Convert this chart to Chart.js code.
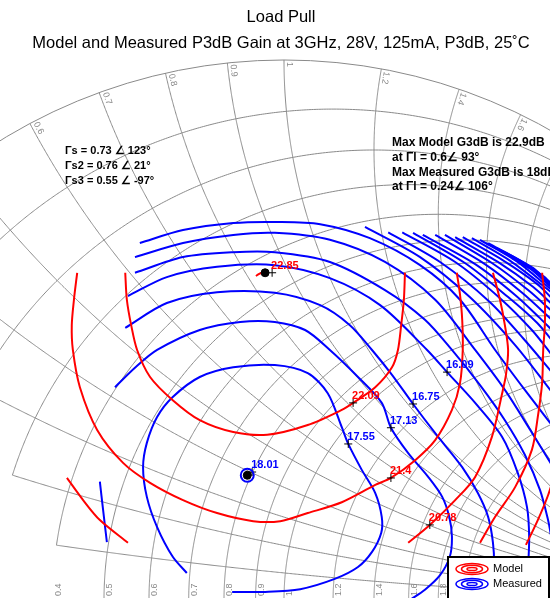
<!DOCTYPE html>
<html>
<head>
<meta charset="utf-8">
<title>Load Pull</title>
<script src="https://cdn.jsdelivr.net/npm/chart.js@4.4.1/dist/chart.umd.min.js"></script>
<style>
  html, body { margin: 0; padding: 0; background: #fff; }
  #wrap { width: 550px; height: 598px; position: relative; }
</style>
</head>
<body>
<div id="wrap"><canvas id="loadPull"></canvas></div>
<script>
// Smith chart grid (resistance circles, reactance arcs) and tick labels
const GRID_R = [0.1, 0.2, 0.3, 0.4, 0.5, 0.6, 0.7, 0.8, 0.9, 1, 1.2, 1.4, 1.6, 1.8, 2, 3, 4, 5, 10, 20];
const GRID_X = [0.1, 0.2, 0.3, 0.4, 0.5, 0.6, 0.7, 0.8, 0.9, 1, 1.2, 1.4, 1.6, 1.8, 2, 3, 4, 5, 10, 20];
const TOP_TICKS = [0.6, 0.7, 0.8, 0.9, 1, 1.2, 1.4, 1.6];
const BOTTOM_TICKS = [0.4, 0.5, 0.6, 0.7, 0.8, 0.9, 1, 1.2, 1.4, 1.6, 1.8, 2];

// Model contours, points as [Re(Γl), Im(Γl)]
const model2285 = [[-0.052, 0.600], [-0.046, 0.604], [-0.041, 0.606], [-0.033, 0.607]];
const model2209 = [[-0.294, 0.606], [-0.291, 0.556], [-0.283, 0.509], [-0.272, 0.463], [-0.248, 0.413], [-0.206, 0.370],
  [-0.156, 0.333], [-0.094, 0.311], [-0.031, 0.306], [0.044, 0.324], [0.107, 0.352], [0.128, 0.365], [0.169, 0.394],
  [0.200, 0.431], [0.211, 0.463], [0.217, 0.509], [0.222, 0.556], [0.224, 0.606]];
const model2140 = [[-0.383, 0.606], [-0.389, 0.556], [-0.393, 0.509], [-0.391, 0.463], [-0.378, 0.394], [-0.346, 0.315],
  [-0.298, 0.254], [-0.248, 0.217], [-0.187, 0.185], [-0.124, 0.161], [-0.057, 0.146], [-0.007, 0.146], [0.044, 0.161],
  [0.107, 0.181], [0.169, 0.213], [0.198, 0.226], [0.243, 0.259], [0.280, 0.296], [0.311, 0.352], [0.326, 0.402],
  [0.331, 0.463], [0.330, 0.519], [0.326, 0.565], [0.320, 0.606]];
const model2078 = [[0.387, 0.606], [0.400, 0.556], [0.409, 0.509], [0.415, 0.463], [0.411, 0.417], [0.404, 0.383],
  [0.385, 0.302], [0.354, 0.228], [0.317, 0.185], [0.270, 0.139], [0.230, 0.106]];
const model2078Left = [[-0.402, 0.226], [-0.372, 0.185], [-0.341, 0.148], [-0.289, 0.106]];
const modelOuter1 = [[0.478, 0.606], [0.483, 0.556], [0.483, 0.509], [0.480, 0.463], [0.478, 0.402], [0.470, 0.339],
  [0.459, 0.278], [0.428, 0.209], [0.391, 0.154], [0.363, 0.106]];
const modelOuter2 = [[0.448, 0.102], [0.470, 0.148], [0.489, 0.194], [0.504, 0.241]];

// Measured contours
const meas1755 = [[-0.180, 0.050], [-0.206, 0.080], [-0.235, 0.135], [-0.254, 0.191], [-0.261, 0.246], [-0.254, 0.291],
  [-0.235, 0.339], [-0.206, 0.376], [-0.156, 0.413], [-0.094, 0.431], [-0.017, 0.435], [0.044, 0.420], [0.081, 0.383],
  [0.107, 0.320], [0.119, 0.289], [0.144, 0.241], [0.169, 0.198], [0.181, 0.154], [0.180, 0.124], [0.163, 0.089],
  [0.137, 0.061], [0.094, 0.039], [0.030, 0.020], [-0.035, 0.015], [-0.096, 0.015]];
const meas1713 = [[-0.313, 0.394], [-0.276, 0.430], [-0.235, 0.463], [-0.156, 0.500], [-0.081, 0.515], [-0.017, 0.515],
  [0.039, 0.500], [0.085, 0.463], [0.137, 0.413], [0.181, 0.365], [0.198, 0.319], [0.230, 0.272], [0.267, 0.228],
  [0.293, 0.191], [0.306, 0.154], [0.311, 0.117], [0.307, 0.080], [0.289, 0.046], [0.261, 0.019], [0.233, 0.000]];
const meas1713Left = [[-0.341, 0.219], [-0.335, 0.167], [-0.328, 0.107]];
const meas1675 = [[-0.294, 0.504], [-0.217, 0.550], [-0.124, 0.570], [-0.017, 0.569], [0.067, 0.546], [0.122, 0.509],
  [0.163, 0.463], [0.200, 0.417], [0.239, 0.363], [0.280, 0.309], [0.330, 0.246], [0.359, 0.198], [0.378, 0.154],
  [0.387, 0.106], [0.389, 0.061], [0.385, 0.000]];
const meas1609 = [[-0.289, 0.563], [-0.217, 0.598], [-0.124, 0.617], [-0.017, 0.620], [0.085, 0.596], [0.178, 0.546],
  [0.265, 0.463], [0.302, 0.422], [0.354, 0.365], [0.404, 0.302], [0.433, 0.235], [0.450, 0.172], [0.454, 0.117],
  [0.452, 0.061], [0.448, 0.000]];
const measOuter = [
  [[-0.276, 0.606], [-0.187, 0.635], [-0.094, 0.644], [-0.017, 0.644], [0.085, 0.626], [0.187, 0.574], [0.261, 0.519],
   [0.311, 0.463], [0.363, 0.398], [0.409, 0.333], [0.446, 0.269], [0.474, 0.204], [0.489, 0.148], [0.496, 0.111]],
  [[-0.276, 0.635], [-0.187, 0.661], [-0.094, 0.676], [-0.017, 0.680], [0.085, 0.667], [0.187, 0.626], [0.280, 0.556],
   [0.354, 0.463], [0.409, 0.389], [0.456, 0.315], [0.496, 0.250]],
  [[-0.267, 0.661], [-0.187, 0.685], [-0.094, 0.698], [-0.017, 0.700], [0.067, 0.696], [0.159, 0.670], [0.252, 0.620],
   [0.326, 0.556], [0.391, 0.463], [0.446, 0.389], [0.496, 0.324]]
];
// measured contours cut by the edge of the measured region (top right)
const measEdge = [
  [[0.150, 0.691], [0.252, 0.635], [0.344, 0.561], [0.428, 0.472], [0.496, 0.385]],
  [[0.193, 0.681], [0.289, 0.626], [0.381, 0.552], [0.446, 0.481], [0.496, 0.422]],
  [[0.219, 0.681], [0.317, 0.626], [0.400, 0.559], [0.459, 0.500], [0.496, 0.454]],
  [[0.239, 0.680], [0.335, 0.624], [0.415, 0.561], [0.469, 0.513], [0.496, 0.481]],
  [[0.257, 0.676], [0.354, 0.622], [0.428, 0.565], [0.474, 0.522], [0.496, 0.500]],
  [[0.280, 0.676], [0.372, 0.622], [0.441, 0.569], [0.496, 0.519]],
  [[0.298, 0.676], [0.385, 0.624], [0.452, 0.574], [0.496, 0.535]],
  [[0.317, 0.672], [0.396, 0.626], [0.461, 0.580], [0.496, 0.548]],
  [[0.331, 0.672], [0.407, 0.628], [0.469, 0.585], [0.496, 0.559]],
  [[0.348, 0.670], [0.419, 0.628], [0.496, 0.569]],
  [[0.363, 0.667], [0.430, 0.628], [0.496, 0.574]],
  [[0.378, 0.661], [0.441, 0.626], [0.496, 0.578]],
  [[0.393, 0.652], [0.452, 0.620], [0.496, 0.580]],
  [[0.407, 0.643], [0.461, 0.615], [0.496, 0.581]],
  [[0.422, 0.633], [0.470, 0.607], [0.496, 0.583]],
  [[0.437, 0.624], [0.480, 0.600], [0.496, 0.585]]
];

// Maxima and labelled points
const modelMax = [[-0.035, 0.606]];
const measMax = [[-0.068, 0.231]];
const modelLabelPts = [[-0.022, 0.606], [0.128, 0.365], [0.198, 0.226], [0.270, 0.139]];
const modelLabels = ['22.85', '22.09', '21.4', '20.78'];
const measLabelPts = [[-0.059, 0.237], [0.119, 0.289], [0.198, 0.319], [0.239, 0.363], [0.302, 0.422]];
const measLabels = ['18.01', '17.55', '17.13', '16.75', '16.09'];

const sourceNotes = ['Γs = 0.73 ∠ 123°', 'Γs2 = 0.76 ∠ 21°', 'Γs3 = 0.55 ∠ -97°'];
const maxNotes = ['Max Model G3dB is 22.9dB', 'at Γl = 0.6∠ 93°', 'Max Measured G3dB is 18dB', 'at Γl = 0.24∠ 106°'];
const legendItems = [['Model', '#ff0000'], ['Measured', '#0000ff']];

const RED = '#ff0000';
const BLUE = '#0000ff';
const FONT = "'Liberation Sans', Arial, sans-serif";

const toXY = pts => pts.map(p => ({ x: p[0], y: p[1] }));
const contour = (pts, color) => ({
  data: toXY(pts), showLine: true, borderColor: color, backgroundColor: color,
  borderWidth: 2, pointRadius: 0, tension: 0.3
});
const markers = (pts, opts) => Object.assign({
  data: toXY(pts), showLine: false, pointBorderWidth: 1, pointRadius: 4
}, opts);

// reflection coefficient for z = r + jx
function gamma(r, x) {
  const d = (r + 1) * (r + 1) + x * x;
  return [(r * r + x * x - 1) / d, 2 * x / d];
}

// Smith chart grid drawn under the datasets
const smithGrid = {
  id: 'smithGrid',
  beforeDatasetsDraw(chart) {
    const { ctx, chartArea: area, scales } = chart;
    const sx = scales.x, sy = scales.y;
    const cx = sx.getPixelForValue(0), cy = sy.getPixelForValue(0);
    const R = sx.getPixelForValue(1) - cx;
    const trace = (fn, from) => {
      ctx.beginPath();
      for (let i = 0; i <= 400; i++) {
        const v = from + Math.tan(i / 401 * Math.PI / 2) * 0.5;
        const g = fn(v);
        const X = sx.getPixelForValue(g[0]), Y = sy.getPixelForValue(g[1]);
        if (i === 0) ctx.moveTo(X, Y); else ctx.lineTo(X, Y);
      }
      ctx.stroke();
    };

    ctx.save();
    ctx.beginPath();
    ctx.rect(0, area.top, chart.width, area.bottom - area.top);
    ctx.clip();
    ctx.strokeStyle = '#8a8a8a';
    ctx.lineWidth = 1;
    ctx.beginPath();
    ctx.arc(cx, cy, R, Math.PI, 2 * Math.PI);
    ctx.stroke();
    GRID_R.forEach(r => trace(v => gamma(r, v), Math.max(0, 0.5 - r)));
    GRID_X.forEach(x => trace(v => gamma(v, x), Math.max(0, 0.5 - x)));

    ctx.fillStyle = '#8a8a8a';
    ctx.font = '9px ' + FONT;
    TOP_TICKS.forEach(xv => {
      const g = gamma(0, xv);
      const X = sx.getPixelForValue(g[0]), Y = sy.getPixelForValue(g[1]);
      ctx.save();
      ctx.translate(X, Y);
      ctx.rotate(Math.atan2(cy - Y, cx - X));
      ctx.textAlign = 'left';
      ctx.textBaseline = 'bottom';
      ctx.fillText(String(xv), 2, -1);
      ctx.restore();
    });
    BOTTOM_TICKS.forEach(r => {
      const X = sx.getPixelForValue((r - 1) / (r + 1));
      ctx.save();
      ctx.translate(X, area.bottom - 1);
      ctx.rotate(-Math.PI / 2);
      ctx.textAlign = 'left';
      ctx.textBaseline = 'top';
      ctx.fillText(String(r), 1, 1);
      ctx.restore();
    });
    ctx.restore();
  }
};

// value labels, notes and legend
const overlay = {
  id: 'overlay',
  afterDatasetsDraw(chart) {
    const { ctx, chartArea: area, scales } = chart;
    const sx = scales.x, sy = scales.y;
    ctx.save();
    ctx.font = 'bold 11px ' + FONT;
    ctx.textAlign = 'left';
    ctx.textBaseline = 'middle';
    const put = (pts, texts, color) => {
      ctx.fillStyle = color;
      pts.forEach((p, i) => ctx.fillText(texts[i], sx.getPixelForValue(p[0]) - 1, sy.getPixelForValue(p[1]) - 7));
    };
    put(modelLabelPts, modelLabels, RED);
    put(measLabelPts, measLabels, BLUE);

    ctx.fillStyle = '#000';
    sourceNotes.forEach((t, i) => ctx.fillText(t, 65, 151 + i * 15));
    ctx.font = 'bold 12px ' + FONT;
    maxNotes.forEach((t, i) => ctx.fillText(t, 392, 143 + i * 14.7));

    // legend box
    const lx = area.right - 102, ly = area.bottom - 41;
    ctx.fillStyle = '#fff';
    ctx.fillRect(lx, ly, 101, 45);
    ctx.strokeStyle = '#000';
    ctx.lineWidth = 2;
    ctx.strokeRect(lx, ly, 101, 45);
    ctx.font = '11px ' + FONT;
    legendItems.forEach(([name, color], i) => {
      const y = ly + 12 + i * 15;
      ctx.strokeStyle = color;
      ctx.lineWidth = 1.5;
      [[16, 5.5], [10.5, 3.8], [5, 1.6]].forEach(([rx, ry]) => {
        ctx.beginPath();
        ctx.ellipse(lx + 24, y, rx, ry, 0, 0, 2 * Math.PI);
        ctx.stroke();
      });
      ctx.fillStyle = '#000';
      ctx.fillText(name, lx + 45, y);
    });
    ctx.restore();
  }
};

const datasets = [
  markers(measMax, { pointStyle: 'circle', pointRadius: 6.5, pointBorderWidth: 2, borderColor: BLUE, pointBorderColor: BLUE, backgroundColor: 'rgba(0,0,0,0)', pointBackgroundColor: 'rgba(0,0,0,0)' }),
  markers(modelMax.concat(measMax), { pointStyle: 'circle', pointRadius: 4, borderColor: '#000', pointBorderColor: '#000', backgroundColor: '#000', pointBackgroundColor: '#000' }),
  markers(modelLabelPts.concat(measLabelPts), { pointStyle: 'cross', pointRadius: 4, borderColor: '#000', pointBorderColor: '#000', backgroundColor: '#000' }),
  contour(model2285, RED), contour(model2209, RED), contour(model2140, RED), contour(model2078, RED),
  contour(model2078Left, RED), contour(modelOuter1, RED), contour(modelOuter2, RED),
  contour(meas1755, BLUE), contour(meas1713, BLUE), contour(meas1713Left, BLUE), contour(meas1675, BLUE),
  contour(meas1609, BLUE)
].concat(measOuter.map(c => contour(c, BLUE)), measEdge.map(c => contour(c, BLUE)));

// chart area top = 5 + 2 * 16.5 * 1.55 = 56.15 px; Γ scale is 540 px per unit, centre at (284, 600)
new Chart(document.getElementById('loadPull'), {
  type: 'scatter',
  data: { datasets },
  options: {
    responsive: true,
    maintainAspectRatio: false,
    animation: false,
    devicePixelRatio: 1,
    events: [],
    layout: { autoPadding: false, padding: { left: 12, top: 0, right: 0, bottom: 0 } },
    plugins: {
      legend: { display: false },
      tooltip: { enabled: false },
      title: {
        display: true,
        text: ['Load Pull', 'Model and Measured P3dB Gain at 3GHz, 28V, 125mA, P3dB, 25˚C'],
        color: '#000',
        font: { family: FONT, size: 16.5, weight: 'normal', lineHeight: 1.55 },
        padding: { top: 5, bottom: 0 }
      }
    },
    scales: {
      x: { type: 'linear', display: false, min: -0.50370, max: 0.49259 },
      y: { type: 'linear', display: false, min: 0.0037, max: 1.00713 }
    }
  },
  plugins: [smithGrid, overlay]
});
</script>
</body>
</html>
